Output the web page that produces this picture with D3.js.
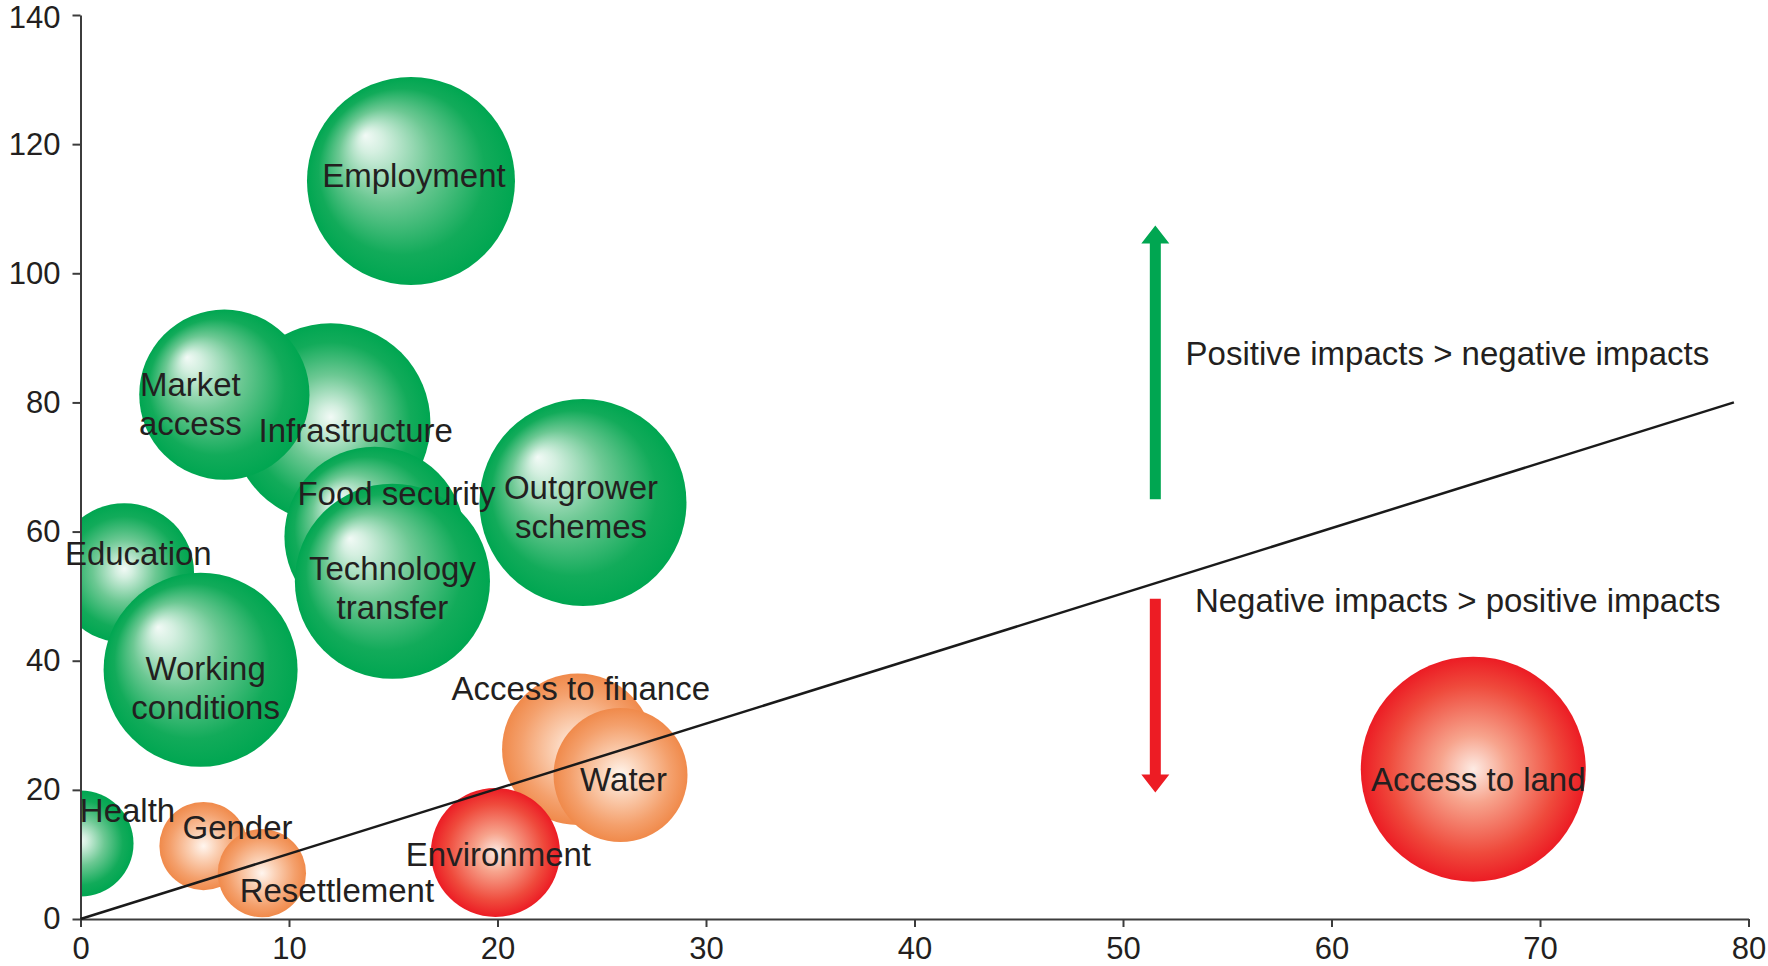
<!DOCTYPE html>
<html>
<head>
<meta charset="utf-8">
<script src="https://cdn.jsdelivr.net/npm/d3@7"></script>
<style>
  html, body { margin: 0; padding: 0; background: #ffffff; }
  svg { display: block; }
  text { font-family: "Liberation Sans", Arial, Helvetica, sans-serif; fill: #231f20; }
</style>
</head>
<body>
<svg id="chart" width="1768" height="966"></svg>
<script>
// ---------------- data ----------------
const names  = ["Education", "Working conditions", "Health", "Infrastructure", "Market access",
                "Employment", "Food security", "Technology transfer", "Outgrower schemes",
                "Gender", "Resettlement", "Access to finance", "Water", "Environment", "Access to land"];
const xVals  = [2.1, 5.76, 0, 12.0, 6.9, 15.85, 14.1, 14.96, 24.1, 5.9, 8.7, 23.85, 25.9, 19.9, 66.8];
const yVals  = [53.6, 38.6, 11.7, 76.8, 81.2, 114.3, 59.2, 52.3, 64.5, 11.3, 7.1, 26.3, 22.3, 10.3, 23.2];
const sizes  = [45, 87, 26, 92, 67, 100, 75, 88, 99, 18, 18, 53, 41.5, 38.5, 117];
const impact = ["positive", "positive", "positive", "positive", "positive",
                "positive", "positive", "positive", "positive",
                "mixed", "mixed", "mixed", "mixed", "negative", "negative"];

const xTicks = [0, 10, 20, 30, 40, 50, 60, 70, 80];
const yTicks = [0, 20, 40, 60, 80, 100, 120, 140];

const parityLine = [[0, 0], [79.3, 80]];
const arrowX = 51.55;
const arrowUp = [65.0, 107.4];
const arrowDown = [49.6, 19.6];
const noteTexts = ["Positive impacts > negative impacts", "Negative impacts > positive impacts"];
const notePos = [[53.0, 85.8], [53.45, 47.6]];

// ---------------- layout (label placement, px offsets from bubble centre) ----------------
const labelLayout = {
  "Education":           {dx: 14,  dy: -8,  lines: ["Education"]},
  "Working conditions":  {dx: 5,   dy: 10,  lines: ["Working", "conditions"]},
  "Health":              {dx: 47,  dy: -21, lines: ["Health"]},
  "Infrastructure":      {dx: 25,  dy: 19,  lines: ["Infrastructure"]},
  "Market access":       {dx: -34, dy: 1,   lines: ["Market", "access"]},
  "Employment":          {dx: 3,   dy: 6,   lines: ["Employment"]},
  "Food security":       {dx: 22,  dy: -32, lines: ["Food security"]},
  "Technology transfer": {dx: 0,   dy: -1,  lines: ["Technology", "transfer"]},
  "Outgrower schemes":   {dx: -2,  dy: -4,  lines: ["Outgrower", "schemes"]},
  "Gender":              {dx: 34,  dy: -7,  lines: ["Gender"]},
  "Resettlement":        {dx: 75,  dy: 29,  lines: ["Resettlement"]},
  "Access to finance":   {dx: 3,   dy: -49, lines: ["Access to finance"]},
  "Water":               {dx: 3,   dy: 16,  lines: ["Water"]},
  "Environment":         {dx: 3,   dy: 14,  lines: ["Environment"]},
  "Access to land":      {dx: 5,   dy: 22,  lines: ["Access to land"]}
};
const centredHighlight = new Set(["Education", "Health", "Infrastructure"]);

const data = names.map((n, i) => ({name: n, x: xVals[i], y: yVals[i], size: sizes[i], impact: impact[i]}));

// ---------------- scales ----------------
const svg = d3.select("#chart");
const x = d3.scaleLinear().domain([0, 80]).range([80.5, 1748.5]);
const y = d3.scaleLinear().domain([0, 140]).range([919, 15]);
const r = d3.scaleSqrt().domain([0, 100]).range([0, 104]);

// ---------------- gradients ----------------
const defs = svg.append("defs");
function radial(id, fx, fy, stops) {
  const g = defs.append("radialGradient").attr("id", id)
    .attr("cx", 0.5).attr("cy", 0.5).attr("r", 0.5).attr("fx", fx).attr("fy", fy);
  stops.forEach(s => g.append("stop").attr("offset", s[0]).attr("stop-color", s[1]));
}
const greenStops = [[0, "#f2faf6"], [0.12, "#d4efe0"], [0.45, "#6cc893"], [0.8, "#12ab5a"], [1, "#00a651"]];
radial("g-green", 0.28, 0.28, greenStops);
radial("g-greenC", 0.5, 0.47, greenStops);
radial("g-orange", 0.5, 0.5, [[0, "#fff6ef"], [0.3, "#fbd2b7"], [0.75, "#f4a06c"], [1, "#f08a4b"]]);
radial("g-red", 0.5, 0.5, [[0, "#fdebe4"], [0.3, "#f7a48d"], [0.75, "#ef4a3c"], [1, "#ec1c24"]]);

defs.append("clipPath").attr("id", "plotClip")
  .append("rect").attr("x", x(0)).attr("y", y(140))
  .attr("width", x(80) - x(0)).attr("height", y(0) - y(140));

function fillFor(d) {
  if (d.impact === "positive") return centredHighlight.has(d.name) ? "url(#g-greenC)" : "url(#g-green)";
  if (d.impact === "mixed") return "url(#g-orange)";
  return "url(#g-red)";
}

// ---------------- bubbles ----------------
svg.append("g").attr("clip-path", "url(#plotClip)")
  .selectAll("circle").data(data).join("circle")
  .attr("cx", d => x(d.x)).attr("cy", d => y(d.y)).attr("r", d => r(d.size))
  .attr("fill", fillFor);

// ---------------- axes ----------------
const axisColor = "#3c3c3c";
const yAxis = svg.append("g").attr("transform", `translate(${x(0)},0)`)
  .call(d3.axisLeft(y).tickValues(yTicks).tickSize(8).tickSizeOuter(0).tickPadding(12));
const xAxis = svg.append("g").attr("transform", `translate(0,${y(0)})`)
  .call(d3.axisBottom(x).tickValues(xTicks).tickSize(8).tickSizeOuter(0).tickPadding(10));
[xAxis, yAxis].forEach(a => {
  a.select(".domain").attr("stroke", axisColor).attr("stroke-width", 2);
  a.selectAll(".tick line").attr("stroke", axisColor).attr("stroke-width", 2);
  a.selectAll(".tick text").attr("font-size", 31).attr("fill", "#231f20")
    .style("font-family", "'Liberation Sans', Arial, sans-serif");
});
yAxis.selectAll(".tick text").filter(d => d === 140).attr("dy", "0.4em");

// ---------------- parity line ----------------
svg.append("path")
  .attr("d", d3.line().x(d => x(d[0])).y(d => y(d[1]))(parityLine))
  .attr("stroke", "#1a1a1a").attr("stroke-width", 2.5).attr("fill", "none");

// ---------------- arrows ----------------
function arrowPath(xv, yFrom, yTip) {
  const cx = x(xv), y0 = y(yFrom), yt = y(yTip);
  const dir = yt < y0 ? -1 : 1;
  const hw = 5.5, headW = 14, headL = 18;
  const yb = yt - dir * headL;
  return `M${cx - hw},${y0} L${cx - hw},${yb} L${cx - headW},${yb} L${cx},${yt} L${cx + headW},${yb} L${cx + hw},${yb} L${cx + hw},${y0} Z`;
}
svg.append("path").attr("d", arrowPath(arrowX, arrowUp[0], arrowUp[1])).attr("fill", "#00a651");
svg.append("path").attr("d", arrowPath(arrowX, arrowDown[0], arrowDown[1])).attr("fill", "#ed1c24");

svg.selectAll("text.note").data(noteTexts).join("text").attr("class", "note")
  .attr("x", (d, i) => x(notePos[i][0])).attr("y", (d, i) => y(notePos[i][1]))
  .attr("font-size", 33).text(d => d);

// ---------------- bubble labels ----------------
const lab = svg.append("g").selectAll("text").data(data).join("text")
  .attr("text-anchor", "middle").attr("font-size", 33)
  .attr("x", d => x(d.x) + labelLayout[d.name].dx)
  .attr("y", d => y(d.y) + labelLayout[d.name].dy);
lab.each(function(d) {
  const L = labelLayout[d.name];
  const t = d3.select(this);
  L.lines.forEach((line, i) => {
    t.append("tspan").attr("x", x(d.x) + L.dx).attr("dy", i === 0 ? 0 : 39).text(line);
  });
});
</script>
</body>
</html>
